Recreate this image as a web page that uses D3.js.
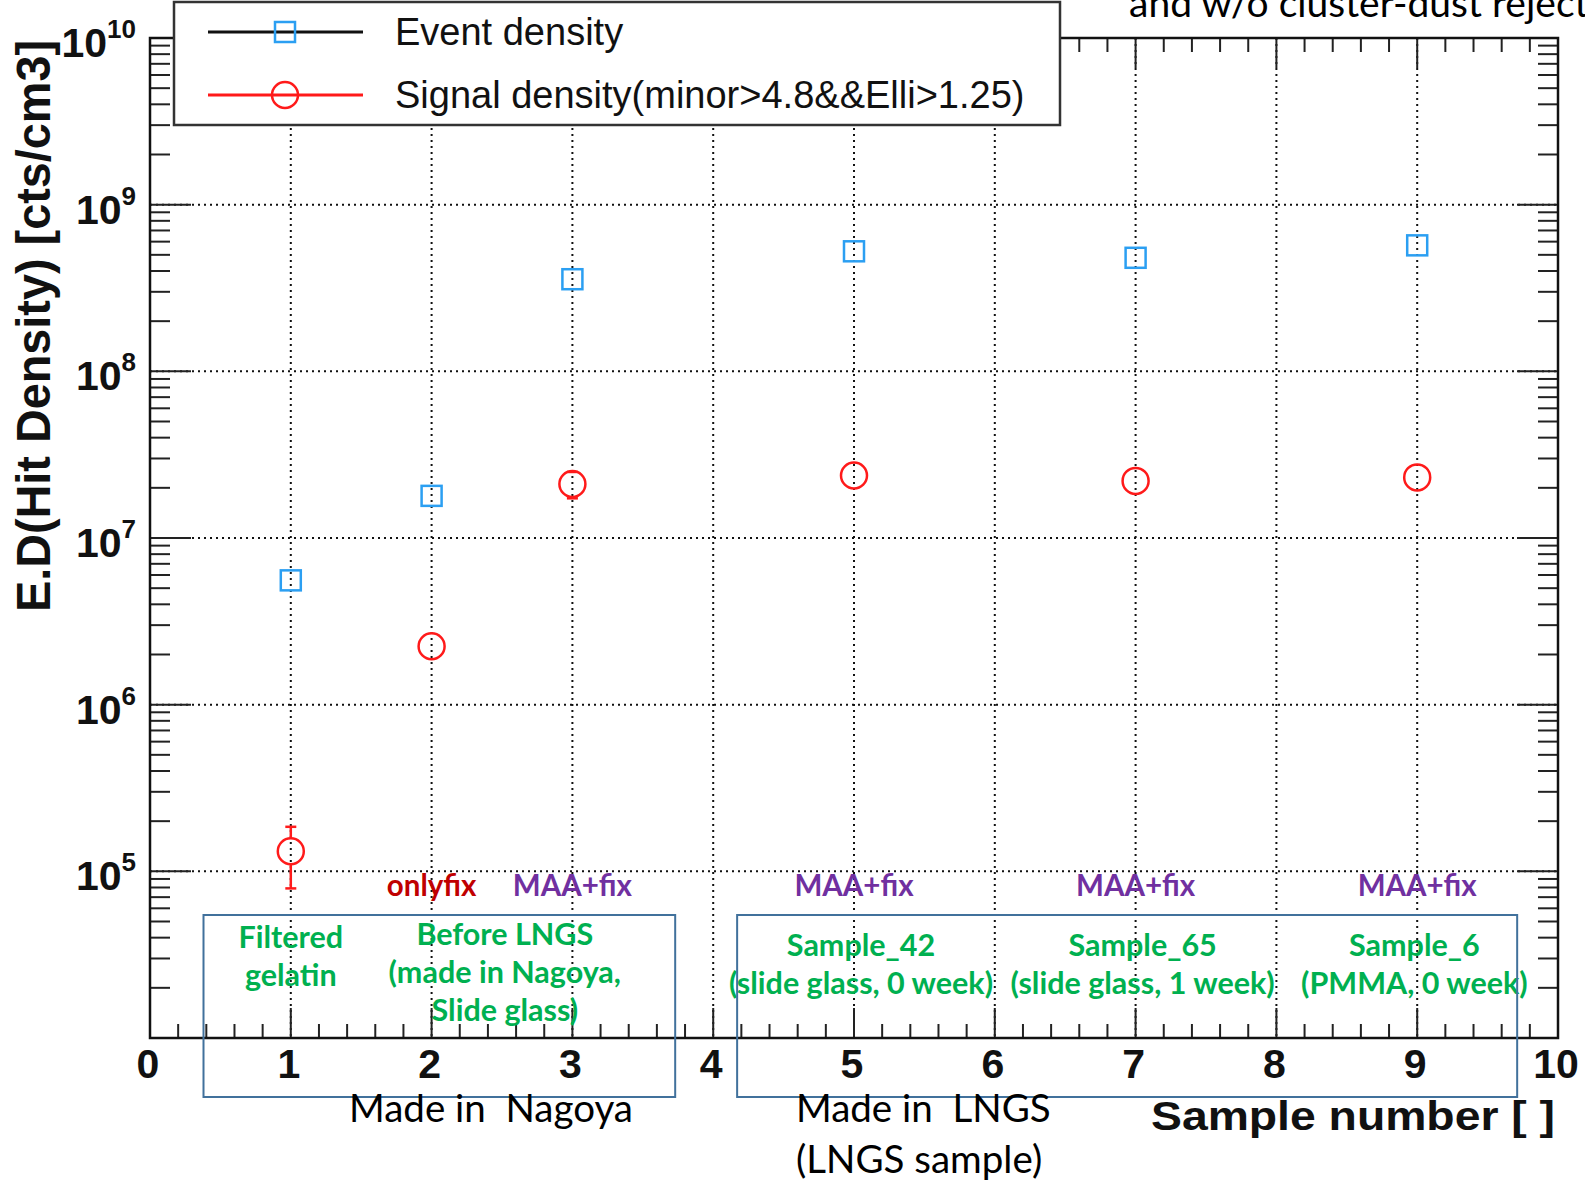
<!DOCTYPE html>
<meta charset="utf-8">
<style>
  body { margin: 0; background: #fff; }
  .grid line { stroke: #111; stroke-width: 2; stroke-dasharray: 2,4; }
  .tick-lbl { font-family: "Liberation Sans", Arial, sans-serif; font-weight: bold; fill: #111; }
  .note { font-family: Lato, "Open Sans", sans-serif; }
</style>
<body>
<script src="https://d3js.org/d3.v7.min.js"></script>
<script>

// sample numbers and measured densities (cts/cm3)
var sampleX = [1, 2, 3, 5, 7, 9];
var eventDensity = [5.57e6, 1.79e7, 3.57e8, 5.25e8, 4.8e8, 5.7e8];
var signalDensity = [1.32e5, 2.24e6, 2.11e7, 2.37e7, 2.2e7, 2.31e7];
var signalError = [5.3e4, 0, 3.8e6, 0, 0, 0];

var xTicks = [0, 1, 2, 3, 4, 5, 6, 7, 8, 9, 10];
var yDecades = [5, 6, 7, 8, 9, 10];

// annotations below the points
var treatX = [2, 3, 5, 7, 9];
var treatText = ["onlyfix", "MAA+fix", "MAA+fix", "MAA+fix", "MAA+fix"];
var sampleNoteX = [1, 2.52, 5.05, 7.05, 8.98];
var sampleNotes = [
  ["Filtered", "gelatin"],
  ["Before LNGS", "(made in Nagoya,", "Slide glass)"],
  ["Sample_42", "(slide glass, 0 week)"],
  ["Sample_65", "(slide glass, 1 week)"],
  ["Sample_6", "(PMMA, 0 week)"]
];
var groupBoxes = [[0.38, 3.73], [4.17, 9.71]];

var W = 1585, H = 1182;
var padL = 150, padR = 1558, padT = 38, padB = 1038;

var svg = d3.select("body").append("svg")
    .attr("width", W).attr("height", H);

var x = d3.scaleLinear().domain([0, 10]).range([padL, padR]);
var y = d3.scaleLog().domain([1e4, 1e10]).range([padB, padT]);

/*
** grid
*/
var grid = svg.append("g").attr("class", "grid");
grid.selectAll(".gx").data(d3.range(1, 10)).enter().append("line")
    .attr("x1", function(d) { return x(d); }).attr("x2", function(d) { return x(d); })
    .attr("y1", padT).attr("y2", padB);
grid.selectAll(".gy").data(yDecades.slice(0, 5)).enter().append("line")
    .attr("y1", function(d) { return y(Math.pow(10, d)); })
    .attr("y2", function(d) { return y(Math.pow(10, d)); })
    .attr("x1", padL).attr("x2", padR);

/*
** ticks on all four sides
*/
var ticks = svg.append("g").attr("stroke", "#222").attr("stroke-width", 2);
var xMinor = d3.range(0, 50).map(function(i) { return i * 0.2; }).filter(function(v) { return Math.abs(v - Math.round(v)) > 1e-6; });
var yMinor = [];
d3.range(4, 10).forEach(function(e) { d3.range(2, 10).forEach(function(m) { yMinor.push(m * Math.pow(10, e)); }); });

function vTicks(vals, len, y0, dir) {
  ticks.selectAll(null).data(vals).enter().append("line")
      .attr("x1", function(d) { return x(d); }).attr("x2", function(d) { return x(d); })
      .attr("y1", y0).attr("y2", y0 + dir * len);
}
function hTicks(vals, len, x0, dir) {
  ticks.selectAll(null).data(vals).enter().append("line")
      .attr("y1", function(d) { return y(d); }).attr("y2", function(d) { return y(d); })
      .attr("x1", x0).attr("x2", x0 + dir * len);
}
vTicks(d3.range(1, 10), 30, padB, -1);
vTicks(xMinor, 14, padB, -1);
vTicks(d3.range(1, 10), 30, padT, 1);
vTicks(xMinor, 14, padT, 1);
var yMajor = yDecades.map(function(e) { return Math.pow(10, e); }).slice(0, 5);
hTicks(yMajor, 41, padL, 1);
hTicks(yMinor, 20, padL, 1);
hTicks(yMajor, 41, padR, -1);
hTicks(yMinor, 20, padR, -1);

svg.append("rect")
    .attr("x", padL).attr("y", padT)
    .attr("width", padR - padL).attr("height", padB - padT)
    .attr("fill", "none").attr("stroke", "#111").attr("stroke-width", 2.5);

/*
** tick labels
*/
svg.selectAll(".xl").data(xTicks).enter().append("text")
    .attr("class", "tick-lbl")
    .attr("x", function(d) { return x(d) - 2; })
    .attr("y", 1078)
    .attr("text-anchor", "middle")
    .attr("font-size", 41)
    .text(function(d) { return d; });

var yl = svg.selectAll(".yl").data(yDecades).enter().append("text")
    .attr("class", "tick-lbl")
    .attr("x", 136)
    .attr("y", function(d) { return y(Math.pow(10, d)) + 19; })
    .attr("text-anchor", "end")
    .attr("font-size", 41);
yl.append("tspan").text("10");
yl.append("tspan").attr("dy", -19).attr("font-size", 26).text(function(d) { return d; });

/*
** axis titles
*/
svg.append("text")
    .attr("class", "tick-lbl")
    .attr("transform", "translate(50,40) rotate(-90)")
    .attr("text-anchor", "end")
    .attr("font-size", 48)
    .attr("textLength", 572)
    .attr("lengthAdjust", "spacingAndGlyphs")
    .text("E.D(Hit Density) [cts/cm3]");

svg.append("text")
    .attr("class", "tick-lbl")
    .attr("x", 1555).attr("y", 1130)
    .attr("text-anchor", "end")
    .attr("font-size", 40)
    .attr("textLength", 404)
    .attr("lengthAdjust", "spacingAndGlyphs")
    .text("Sample number [ ]");

/*
** error bars and markers
*/
var R = 13, HS = 10, cap = 5.5;
var red = "#ff1a1a", blue = "#2b9ff2";
var eb = svg.append("g").attr("stroke", red).attr("stroke-width", 2.5);
sampleX.forEach(function(sx, i) {
  var e = signalError[i];
  if (!e) return;
  var cx = x(sx), cy = y(signalDensity[i]);
  var yt = y(signalDensity[i] + e), yb = y(signalDensity[i] - e);
  if (yt < cy - R) eb.append("line").attr("x1", cx).attr("x2", cx).attr("y1", yt).attr("y2", cy - R);
  if (yb > cy + R) eb.append("line").attr("x1", cx).attr("x2", cx).attr("y1", cy + R).attr("y2", yb);
  [yt, yb].forEach(function(v) {
    eb.append("line").attr("x1", cx - cap).attr("x2", cx + cap).attr("y1", v).attr("y2", v);
  });
});

svg.selectAll(".sq").data(sampleX).enter().append("rect")
    .attr("x", function(d) { return x(d) - HS; })
    .attr("y", function(d, i) { return y(eventDensity[i]) - HS; })
    .attr("width", 2 * HS).attr("height", 2 * HS)
    .attr("fill", "none").attr("stroke", blue).attr("stroke-width", 2.5);

svg.selectAll(".ci").data(sampleX).enter().append("circle")
    .attr("cx", function(d) { return x(d); })
    .attr("cy", function(d, i) { return y(signalDensity[i]); })
    .attr("r", R)
    .attr("fill", "none").attr("stroke", red).attr("stroke-width", 2.5);

/*
** legend
*/
var leg = svg.append("g");
leg.append("rect").attr("x", 174).attr("y", 2).attr("width", 886).attr("height", 123)
    .attr("fill", "#fff").attr("stroke", "#333").attr("stroke-width", 2.5);
var legItems = [
  {label: "Event density", line: "#111", y: 32, mark: "sq"},
  {label: "Signal density(minor>4.8&&Elli>1.25)", line: red, y: 95, mark: "ci"}
];
legItems.forEach(function(it) {
  leg.append("line").attr("x1", 208).attr("x2", 363).attr("y1", it.y).attr("y2", it.y)
      .attr("stroke", it.line).attr("stroke-width", 3);
  if (it.mark == "sq")
    leg.append("rect").attr("x", 285 - HS).attr("y", it.y - HS).attr("width", 2 * HS).attr("height", 2 * HS)
        .attr("fill", "none").attr("stroke", blue).attr("stroke-width", 2.5);
  else
    leg.append("circle").attr("cx", 285).attr("cy", it.y).attr("r", R)
        .attr("fill", "none").attr("stroke", red).attr("stroke-width", 2.5);
  leg.append("text").attr("x", 395).attr("y", it.y + 13)
      .attr("font-family", "Liberation Sans, Arial, sans-serif").attr("font-size", 38).attr("fill", "#111")
      .text(it.label);
});

/*
** slide annotations
*/
svg.append("text").attr("class", "note")
    .attr("x", 1129).attr("y", 17).attr("font-size", 39).attr("fill", "#000")
    .text("and w/o cluster-dust rejection");

svg.selectAll(".tr").data(treatText).enter().append("text")
    .attr("class", "note")
    .attr("x", function(d, i) { return x(treatX[i]); })
    .attr("y", 896)
    .attr("text-anchor", "middle")
    .attr("font-size", 29.5).attr("font-weight", "bold")
    .attr("fill", function(d) { return d == "onlyfix" ? "#c00000" : "#7030a0"; })
    .text(function(d) { return d; });

var noteTop = [938, 935, 946, 946, 946];
sampleNotes.forEach(function(lines, i) {
  var t = svg.append("text").attr("class", "note")
      .attr("text-anchor", "middle")
      .attr("font-size", 30.5).attr("font-weight", "bold").attr("fill", "#00b050");
  lines.forEach(function(s, j) {
    t.append("tspan").attr("x", x(sampleNoteX[i])).attr("y", noteTop[i] + 10 + j * 38).text(s);
  });
});

svg.selectAll(".box").data(groupBoxes).enter().append("rect")
    .attr("x", function(d) { return x(d[0]); })
    .attr("y", 915)
    .attr("width", function(d) { return x(d[1]) - x(d[0]); })
    .attr("height", 182)
    .attr("fill", "none").attr("stroke", "#41719c").attr("stroke-width", 2);

svg.append("text").attr("class", "note")
    .attr("x", 491).attr("y", 1122).attr("text-anchor", "middle")
    .attr("font-size", 38.5).attr("fill", "#000")
    .attr("xml:space", "preserve")
    .text("Made in  Nagoya");
var lngs = svg.append("text").attr("class", "note")
    .attr("font-size", 38.5).attr("fill", "#000")
    .attr("xml:space", "preserve");
lngs.append("tspan").attr("x", 796).attr("y", 1122).text("Made in  LNGS");
lngs.append("tspan").attr("x", 796).attr("y", 1173).text("(LNGS sample)");

</script>
</body>
